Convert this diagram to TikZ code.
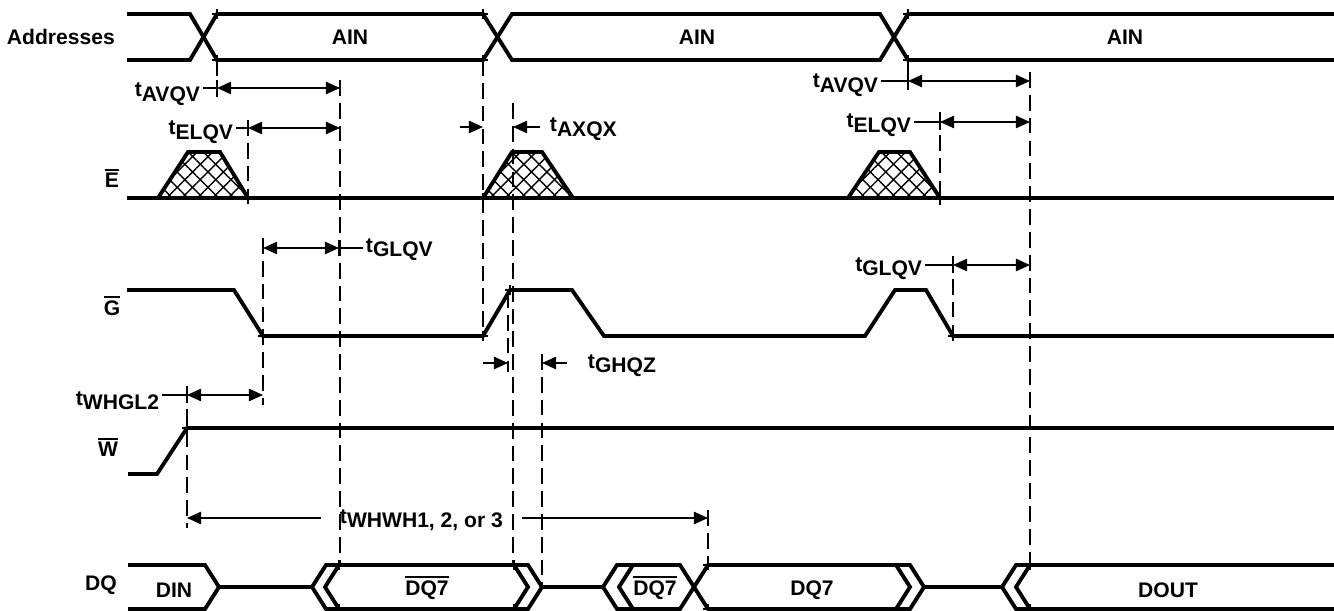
\documentclass[tikz,border=0pt]{standalone}
\usepackage{fontspec}
\setmainfont{Liberation Sans}
\usepackage{tikz}
\usetikzlibrary{arrows.meta,patterns.meta}
\newcommand{\inv}[1]{\vbox{\hrule height 1.1pt\kern 1.3pt\hbox{#1}}}
\newcommand{\tsub}[1]{t\raisebox{-2.8pt}{#1}}

\begin{document}
\begin{tikzpicture}[
    x=0.02cm, y=-0.02cm,
    font=\fontsize{12}{14}\selectfont\bfseries,
    sig/.style={line width=2.2pt},
    guide/.style={line width=0.8pt, dash pattern=on 9pt off 4pt},
    dim/.style={line width=0.85pt},
    dimarrow/.style={dim, {Triangle[length=8pt,width=7pt]}-{Triangle[length=8pt,width=7pt]}},
    inarrow/.style={dim, -{Triangle[length=8pt,width=7pt]}},
    tickmark/.style={line width=0.6pt},
    hatch/.style={pattern={Lines[angle=45,distance=6.2pt,line width=0.8pt]},
        postaction={pattern={Lines[angle=-45,distance=6.2pt,line width=0.8pt]}}},
    tlabel/.style={inner sep=1.5pt}
]
\useasboundingbox (0,0) rectangle (1334,611);

% signal names
\node[anchor=east] (addr) at (121,37) {Addresses};
\node (ebar) at (112,178) {\inv{E}};
\node (gbar) at (112,306) {\inv{G}};
\node (wbar) at (108,447) {\inv{W}};
\node (dq) at (101,585) {DQ};

% addresses
\draw[sig] (127,14) -- (190,14) -- (217,60) -- (483,60) -- (512,14) -- (880,14) -- (908,60) -- (1334,60);
\draw[sig] (127,60) -- (190,60) -- (217,14) -- (483,14) -- (512,60) -- (880,60) -- (908,14) -- (1334,14);
\node (ain1) at (350,37) {AIN};
\node (ain2) at (697,37) {AIN};
\node (ain3) at (1125,37) {AIN};

% E
\foreach \a/\b/\c/\d in {158/188/220/248, 483/512/542/573, 848/879/910/940}
    \fill[hatch] (\a,198) -- (\b,152) -- (\c,152) -- (\d,198) -- cycle;
\draw[sig] (127,198) -- (1334,198);
\foreach \a/\b/\c/\d in {158/188/220/248, 483/512/542/573, 848/879/910/940}
    \draw[sig] (\a,198) -- (\b,152) -- (\c,152) -- (\d,198);

% G
\draw[sig] (127,290) -- (234,290) -- (263,336) -- (483,336) -- (510,290) -- (572,290) -- (604,336)
    -- (865,336) -- (895,290) -- (926,290) -- (953,336) -- (1334,336);

% W
\draw[sig] (128,474) -- (157,474) -- (187,428) -- (1334,428);

% DQ
\draw[sig] (128,565) -- (205,565) -- (219,587) -- (205,609) -- (128,609);
\draw[sig] (219,587) -- (312,587);
\draw[sig] (528,565) -- (326,565) -- (312,587) -- (326,609) -- (528,609) -- (542,587) -- cycle;
\draw[sig] (339,565) -- (325,587) -- (339,609);
\draw[sig] (514,565) -- (528,587) -- (514,609);
\draw[sig] (542,587) -- (603,587);
\draw[sig] (617,565) -- (603,587) -- (617,609) -- (680,609) -- (708,565) -- (910,565) -- (924,587)
    -- (910,609) -- (708,609) -- (680,565) -- cycle;
\draw[sig] (633,565) -- (619,587) -- (633,609);
\draw[sig] (896,565) -- (910,587) -- (896,609);
\draw[sig] (924,587) -- (1002,587);
\draw[sig] (1334,565) -- (1016,565) -- (1002,587) -- (1016,609) -- (1334,609);
\draw[sig] (1030,565) -- (1016,587) -- (1030,609);
\node (din) at (174,590) {DIN};
\node (ndq1) at (427,588) {\inv{DQ7}};
\node (ndq2) at (655,588) {\inv{DQ7}};
\node (dq7) at (812,590) {DQ7};
\node (dout) at (1168,590) {DOUT};

% small marks where the edges are timed
\foreach \p in {(217,14),(217,60),(483,14),(483,60),(908,14),(908,60),(248,198),(483,198),(940,198),
    (263,336),(483,336),(510,290),(953,336),(187,428),(339,565),(339,609),(514,565),(514,609),
    (708,565),(708,609),(1030,565),(1030,609)}
    \draw[tickmark] \p +(-5,0) -- +(5,0) \p +(0,-5) -- +(0,5);

% guides
\draw[guide] (217,60) -- (217,97);
\draw[guide] (340,80) -- (340,565);
\draw[guide] (248,120) -- (248,205);
\draw[guide] (483,60) -- (483,336);
\draw[guide] (513,103) -- (513,565);
\draw[guide] (508,292) -- (508,372);
\draw[guide] (542,354) -- (542,587);
\draw[guide] (263,238) -- (263,405);
\draw[guide] (187,386) -- (187,528);
\draw[guide] (708,510) -- (708,565);
\draw[guide] (908,60) -- (908,90);
\draw[guide] (940,112) -- (940,205);
\draw[guide] (1030,72) -- (1030,565);
\draw[guide] (953,256) -- (953,336);

% timing parameters
\coordinate (avqv1a) at (217,88);  \coordinate (avqv1b) at (340,88);
\coordinate (elqv1a) at (248,128); \coordinate (elqv1b) at (340,128);
\coordinate (axqxl) at (460,127);  \coordinate (axqxa) at (483,127);
\coordinate (axqxr) at (540,127);  \coordinate (axqxb) at (513,127);
\coordinate (avqv2a) at (908,81);  \coordinate (avqv2b) at (1030,81);
\coordinate (elqv2a) at (940,122); \coordinate (elqv2b) at (1030,122);
\coordinate (glqv1a) at (263,248); \coordinate (glqv1b) at (339,248);
\coordinate (glqv2a) at (953,265); \coordinate (glqv2b) at (1030,265);
\coordinate (ghqzl) at (483,363);  \coordinate (ghqza) at (508,363);
\coordinate (ghqzr) at (567,363);  \coordinate (ghqzb) at (542,363);
\coordinate (whgla) at (187,395);  \coordinate (whglb) at (263,395);
\coordinate (whwha) at (187,518);  \coordinate (whwhb) at (708,518);

\node[tlabel, anchor=base east] (avqv1) at (203,97) {\tsub{AVQV}};
\node[tlabel, anchor=base east] (elqv1) at (236,135) {\tsub{ELQV}};
\node[tlabel, anchor=base west] (axqx) at (547,132) {\tsub{AXQX}};
\node[tlabel, anchor=base east] (avqv2) at (881,88) {\tsub{AVQV}};
\node[tlabel, anchor=base east] (elqv2) at (914,128) {\tsub{ELQV}};
\node[tlabel, anchor=base west] (glqv1) at (363,252) {\tsub{GLQV}};
\node[tlabel, anchor=base east] (glqv2) at (925,271) {\tsub{GLQV}};
\node[tlabel, anchor=base west] (ghqz) at (585,368) {\tsub{GHQZ}};
\node[tlabel, anchor=base east] (whgl) at (162,405) {\tsub{WHGL2}};
\node[tlabel, anchor=base west] (whwh) at (337,523) {\tsub{WHWH1, 2, or 3}};

\draw[dim] (avqv1.east |- avqv1a) -- (avqv1a);
\draw[dimarrow] (avqv1a) -- (avqv1b);
\draw[dim] (elqv1.east |- elqv1a) -- (elqv1a);
\draw[dimarrow] (elqv1a) -- (elqv1b);
\draw[inarrow] (axqxl) -- (axqxa);
\draw[inarrow] (axqxr) -- (axqxb);
\draw[dim] (avqv2.east |- avqv2a) -- (avqv2a);
\draw[dimarrow] (avqv2a) -- (avqv2b);
\draw[dim] (elqv2.east |- elqv2a) -- (elqv2a);
\draw[dimarrow] (elqv2a) -- (elqv2b);
\draw[dimarrow] (glqv1a) -- (glqv1b);
\draw[dim] (glqv1b) -- (glqv1.west |- glqv1b);
\draw[dim] (glqv2.east |- glqv2a) -- (glqv2a);
\draw[dimarrow] (glqv2a) -- (glqv2b);
\draw[inarrow] (ghqzl) -- (ghqza);
\draw[inarrow] (ghqzr) -- (ghqzb);
\draw[dim] (whgl.east |- whgla) -- (whgla);
\draw[dimarrow] (whgla) -- (whglb);
\draw[dim, {Triangle[length=8pt,width=7pt]}-, shorten >=9pt] (whwha) -- (whwh.west |- whwha);
\draw[dim, -{Triangle[length=8pt,width=7pt]}, shorten <=9pt] (whwh.east |- whwhb) -- (whwhb);
\foreach \p in {avqv1a,elqv1a,avqv2a,elqv2a,glqv1b,glqv2a,whgla}
    \draw[dim] (\p) +(0,-8) -- +(0,8);

\end{tikzpicture}
\end{document}
